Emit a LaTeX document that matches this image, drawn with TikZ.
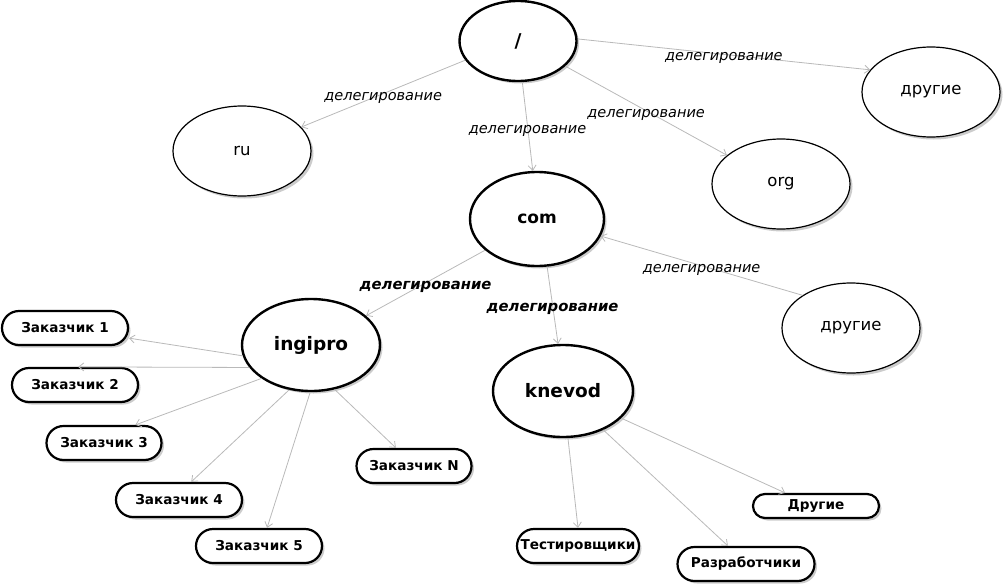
\documentclass[tikz,border=0pt]{standalone}
\usepackage{fontspec}
\setmainfont{DejaVu Sans}
\usetikzlibrary{arrows.meta}
\usetikzlibrary{shapes.geometric, shadows}

\begin{document}
\begin{tikzpicture}[x=1pt, y=-1pt,
    lbl/.style={yshift=-4pt, font=\fontsize{14.5}{17}\selectfont\itshape},
    blbl/.style={yshift=-4pt, font=\fontsize{14.8}{17}\selectfont\bfseries\itshape},
    shdw/.style={drop shadow={shadow xshift=2.5pt, shadow yshift=-2.5pt, opacity=.4}}]

    \useasboundingbox (0,0) rectangle (1003,586);

    % zones with thick border
    \begin{scope}[every node/.style={ellipse, draw, line width=2.4pt, fill=white, inner sep=0pt, shdw,
                  minimum width=138pt, minimum height=92pt, font=\fontsize{18.5}{22}\selectfont\bfseries}]
    \node[minimum width=117pt, minimum height=80pt, font=\fontsize{19}{22}\selectfont\bfseries] (root) at (518,41) {/};
    \node[minimum width=134pt, minimum height=94pt, font=\fontsize{17}{20}\selectfont\bfseries] (com) at (537,219) {com};
    \node (ing) at (311,345) {ingipro};
    \node[minimum width=140pt] (kne) at (563,391) {knevod};
    \end{scope}

    % other zones, thin border
    \begin{scope}[every node/.style={ellipse, draw, line width=1.2pt, fill=white, inner sep=0pt, shdw,
                  minimum width=138pt, minimum height=90pt, font=\fontsize{16.5}{19}\selectfont}]
    \node (ru) at (242,151) {ru};
    \node (org) at (781,184) {org};
    \node (oth1) at (931,92) {другие};
    \node (oth2) at (851,328) {другие};
    \end{scope}

    % clients and groups
    \begin{scope}[every node/.style={rectangle, rounded corners=17pt, draw, line width=2.2pt, fill=white, shdw,
                  minimum width=126pt, minimum height=34pt, inner sep=0pt, font=\fontsize{13.6}{16}\selectfont\bfseries}]
    \node (z1) at (65,328) {Заказчик 1};
    \node (z2) at (75,385) {Заказчик 2};
    \node[minimum width=115pt] (z3) at (104,443) {Заказчик 3};
    \node (z4) at (179,500) {Заказчик 4};
    \node (z5) at (259,546) {Заказчик 5};
    \node[minimum width=115pt] (zN) at (414,466) {Заказчик N};
    \node[minimum width=122pt] (test) at (578,546) {Тестировщики};
    \node[minimum width=137pt] (dev) at (746,564) {Разработчики};
    \node[minimum height=24pt, rounded corners=12pt] (oth3) at (816,506) {Другие};
    \end{scope}

    % delegation
    \begin{scope}[>={Straight Barb[length=5pt,width=8pt]},
              every edge/.style={draw=gray!55, line width=.8pt}]
    \path [->] (root.200) edge node[lbl] {делегирование} (ru.22);
    \path [->] (root.276) edge node[lbl] {делегирование} (com.95);
    \path [->] (root.332) edge node[lbl] {делегирование} (org.152);
    \path [->] (root.2) edge node[lbl] {делегирование} (oth1.160);
    \path [->] (oth2.146) edge node[lbl] {делегирование} (com.345);
    \path [->] (com.211) edge node[blbl] {делегирование} (ing.28);
    \path [->] (com.282) edge node[blbl] {делегирование} (kne.96);
    \end{scope}

    % ingipro and knevod
    \begin{scope}[>={Straight Barb[length=5pt,width=8pt]},
              every edge/.style={draw=gray!55, line width=.8pt}]
    \path [->] (ing.189) edge (z1.-9);
    \path [->] (ing.200) edge (z2.80);
    \path [->] (ing.214) edge (z3.30);
    \path [->] (ing.244) edge (z4.56);
    \path [->] (ing.269) edge (z5.66);
    \path [->] (ing.298) edge (zN.135);
    \path [->] (kne.276) edge (test.north);
    \path [->] (kne.316) edge (dev.135);
    \path [->] (kne.335) edge (oth3.157);
    \end{scope}

\end{tikzpicture}
\end{document}
